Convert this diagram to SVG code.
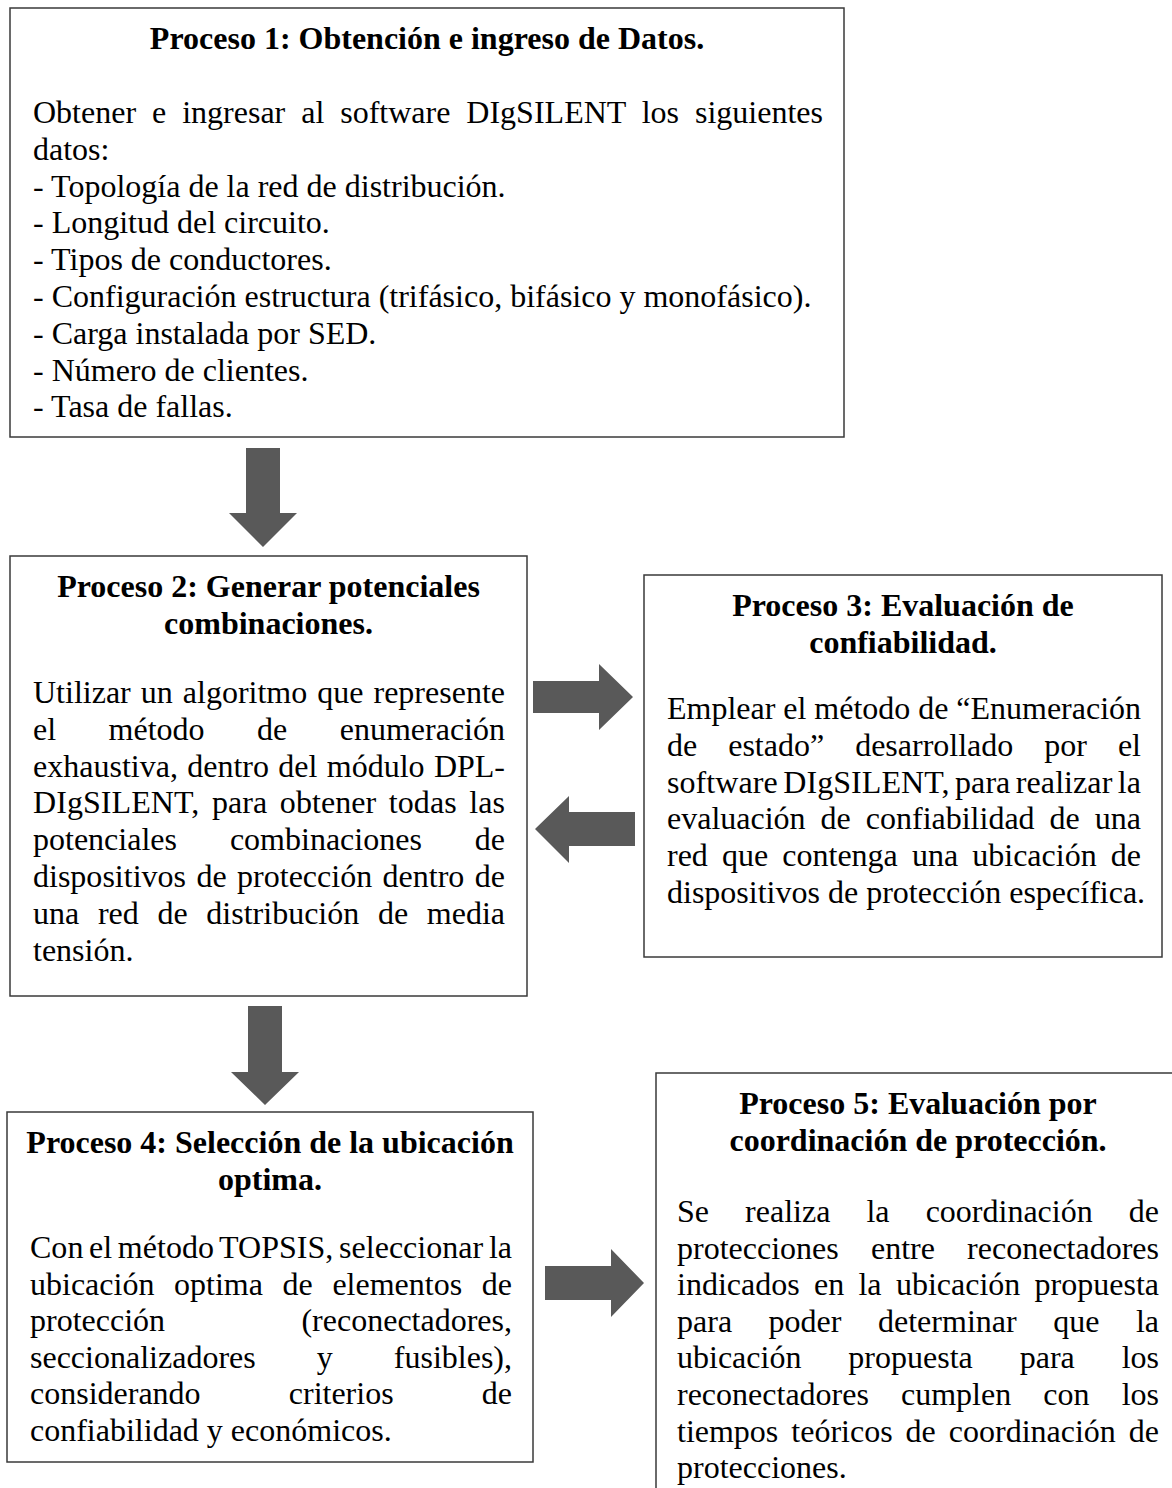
<svg xmlns="http://www.w3.org/2000/svg" width="1172" height="1488" viewBox="0 0 1172 1488">
<style>
.box{fill:#fff;stroke:#3a3a3a;stroke-width:1.5}
.t{font-family:"Liberation Serif","Times New Roman",serif;font-size:32px;fill:#000}
.h{font-weight:bold;text-anchor:middle}
.arrow{fill:#595959}
</style>
<rect width="1172" height="1488" fill="#fff"/>
<g id="proceso1">
<rect class="box" x="10" y="8" width="834" height="429"/>
<text class="t h" x="427" y="49">Proceso 1: Obtención e ingreso de Datos.</text>
<text class="t" x="33" y="123" word-spacing="7.9" textLength="790" lengthAdjust="spacing">Obtener e ingresar al software DIgSILENT los siguientes</text>
<text class="t" x="33" y="159.8">datos:</text>
<text class="t" x="33" y="196.6">- Topología de la red de distribución.</text>
<text class="t" x="33" y="233.4">- Longitud del circuito.</text>
<text class="t" x="33" y="270.2">- Tipos de conductores.</text>
<text class="t" x="33" y="307">- Configuración estructura (trifásico, bifásico y monofásico).</text>
<text class="t" x="33" y="343.8">- Carga instalada por SED.</text>
<text class="t" x="33" y="380.6">- Número de clientes.</text>
<text class="t" x="33" y="417.4">- Tasa de fallas.</text>
</g>
<g id="proceso2">
<rect class="box" x="10" y="556" width="517" height="440"/>
<text class="t h" x="268.5" y="597">Proceso 2: Generar potenciales</text>
<text class="t h" x="268.5" y="634">combinaciones.</text>
<text class="t" x="33" y="703" word-spacing="2" textLength="472" lengthAdjust="spacing">Utilizar un algoritmo que represente</text>
<text class="t" x="33" y="739.8" word-spacing="44.5" textLength="472" lengthAdjust="spacing">el método de enumeración</text>
<text class="t" x="33" y="776.6" word-spacing="1.3" textLength="472" lengthAdjust="spacing">exhaustiva, dentro del módulo DPL-</text>
<text class="t" x="33" y="813.4" word-spacing="4.5" textLength="472" lengthAdjust="spacing">DIgSILENT, para obtener todas las</text>
<text class="t" x="33" y="850.2" word-spacing="44.9" textLength="472" lengthAdjust="spacing">potenciales combinaciones de</text>
<text class="t" x="33" y="887" word-spacing="2.4" textLength="472" lengthAdjust="spacing">dispositivos de protección dentro de</text>
<text class="t" x="33" y="923.8" word-spacing="10.7" textLength="472" lengthAdjust="spacing">una red de distribución de media</text>
<text class="t" x="33" y="960.6">tensión.</text>
</g>
<g id="proceso3">
<rect class="box" x="644" y="575" width="518" height="382"/>
<text class="t h" x="903" y="616">Proceso 3: Evaluación de</text>
<text class="t h" x="903" y="653">confiabilidad.</text>
<text class="t" x="667" y="719" textLength="474" lengthAdjust="spacing">Emplear el método de “Enumeración</text>
<text class="t" x="667" y="755.8" word-spacing="23" textLength="474" lengthAdjust="spacing">de estado” desarrollado por el</text>
<text class="t" x="667" y="792.6" word-spacing="-2.6" textLength="474" lengthAdjust="spacing">software DIgSILENT, para realizar la</text>
<text class="t" x="667" y="829.4" word-spacing="7" textLength="474" lengthAdjust="spacing">evaluación de confiabilidad de una</text>
<text class="t" x="667" y="866.2" word-spacing="6.1" textLength="474" lengthAdjust="spacing">red que contenga una ubicación de</text>
<text class="t" x="667" y="903">dispositivos de protección específica.</text>
</g>
<g id="proceso4">
<rect class="box" x="7" y="1112" width="526" height="350"/>
<text class="t h" x="270" y="1153">Proceso 4: Selección de la ubicación</text>
<text class="t h" x="270" y="1190">optima.</text>
<text class="t" x="30" y="1258" word-spacing="-2.4" textLength="482" lengthAdjust="spacing">Con el método TOPSIS, seleccionar la</text>
<text class="t" x="30" y="1294.6" word-spacing="11.6" textLength="482" lengthAdjust="spacing">ubicación optima de elementos de</text>
<text class="t" x="30" y="1331.2" word-spacing="128.4" textLength="482" lengthAdjust="spacing">protección (reconectadores,</text>
<text class="t" x="30" y="1367.8" word-spacing="53" textLength="482" lengthAdjust="spacing">seccionalizadores y fusibles),</text>
<text class="t" x="30" y="1404.4" word-spacing="80.2" textLength="482" lengthAdjust="spacing">considerando criterios de</text>
<text class="t" x="30" y="1441">confiabilidad y económicos.</text>
</g>
<g id="proceso5">
<rect class="box" x="656" y="1073" width="525" height="440"/>
<text class="t h" x="918" y="1114">Proceso 5: Evaluación por</text>
<text class="t h" x="918" y="1151">coordinación de protección.</text>
<text class="t" x="677" y="1222" word-spacing="28.1" textLength="482" lengthAdjust="spacing">Se realiza la coordinación de</text>
<text class="t" x="677" y="1258.6" word-spacing="24.2" textLength="482" lengthAdjust="spacing">protecciones entre reconectadores</text>
<text class="t" x="677" y="1295.2" word-spacing="6.3" textLength="482" lengthAdjust="spacing">indicados en la ubicación propuesta</text>
<text class="t" x="677" y="1331.8" word-spacing="28.5" textLength="482" lengthAdjust="spacing">para poder determinar que la</text>
<text class="t" x="677" y="1368.4" word-spacing="38.9" textLength="482" lengthAdjust="spacing">ubicación propuesta para los</text>
<text class="t" x="677" y="1405" word-spacing="24.1" textLength="482" lengthAdjust="spacing">reconectadores cumplen con los</text>
<text class="t" x="677" y="1441.6" word-spacing="5" textLength="482" lengthAdjust="spacing">tiempos teóricos de coordinación de</text>
<text class="t" x="677" y="1478.2">protecciones.</text>
</g>
<g id="connectors">
<path id="a1" class="arrow" d="M246,448 H280 V513 H297 L263,547 L229,513 H246 Z"/>
<path id="a2" class="arrow" d="M533,681 H599 V664 L633,697 L599,730 V713 H533 Z"/>
<path id="a3" class="arrow" d="M635,812 H569 V796 L535,829 L569,863 V846 H635 Z"/>
<path id="a4" class="arrow" d="M248,1006 H282 V1072 H299 L265,1105 L231,1072 H248 Z"/>
<path id="a5" class="arrow" d="M545,1266 H611 V1249 L644,1283 L611,1317 V1300 H545 Z"/>
</g>
</svg>
